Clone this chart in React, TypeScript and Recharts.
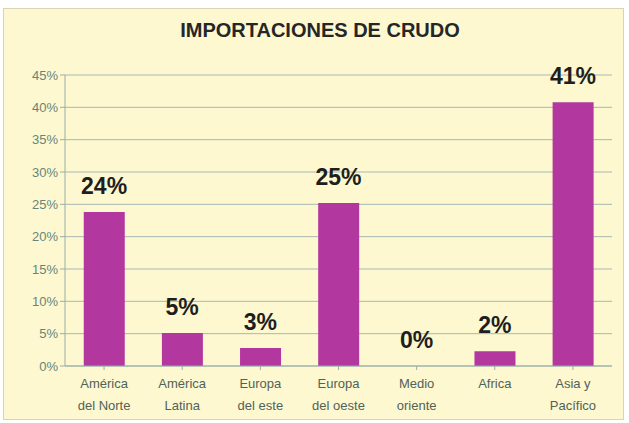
import { ComposedChart, Bar, Line, XAxis, YAxis, CartesianGrid, LabelList } from "recharts";

const regions = [
  "América del Norte",
  "América Latina",
  "Europa del este",
  "Europa del oeste",
  "Medio oriente",
  "Africa",
  "Asia y Pacífico",
];
const tickLines = [
  ["América", "del Norte"],
  ["América", "Latina"],
  ["Europa", "del este"],
  ["Europa", "del oeste"],
  ["Medio", "oriente"],
  ["Africa", ""],
  ["Asia y", "Pacífico"],
];
const shares = [23.8, 5.1, 2.8, 25.2, 0, 2.3, 40.8];
const shareLabels = ["24%", "5%", "3%", "25%", "0%", "2%", "41%"];
const yTicks = [0, 5, 10, 15, 20, 25, 30, 35, 40, 45];

const data = regions.map((name, i) => ({ name, share: shares[i], label: shareLabels[i] }));

const font = "Liberation Sans, Arial, sans-serif";

function RegionTick({ x, y, payload }: any) {
  const lines = tickLines[payload.index] ?? [payload.value, ""];
  return (
    <text x={x} y={y} textAnchor="middle" fill="#51625a" fontSize={13} fontFamily={font}>
      <tspan x={x} dy={16}>{lines[0]}</tspan>
      <tspan x={x} dy={22}>{lines[1]}</tspan>
    </text>
  );
}

export default function App() {
  return (
    <div style={{ position: "absolute", left: 0, top: 0, width: 629, height: 423, background: "#fff" }}>
      <div
        style={{
          position: "absolute",
          left: 3,
          top: 8,
          width: 621,
          height: 412,
          background: "#fdf8d0",
          border: "1px solid #d8d4b4",
          boxSizing: "border-box",
        }}
      />
      <div
        style={{
          position: "absolute",
          left: 0,
          top: 19,
          width: 640,
          textAlign: "center",
          fontFamily: font,
          fontWeight: "bold",
          fontSize: 20,
          color: "#262626",
        }}
      >
        IMPORTACIONES DE CRUDO
      </div>
      <div style={{ position: "absolute", left: 0, top: 0 }}>
        <ComposedChart
          width={629}
          height={423}
          data={data}
          margin={{ top: 75, right: 17, left: 0, bottom: 0 }}
          barCategoryGap="24%"
        >
          <CartesianGrid vertical={false} stroke="#a6bab4" />
          <XAxis
            dataKey="name"
            height={57}
            interval={0}
            tick={<RegionTick />}
            stroke="#9aaea8"
            tickLine={{ stroke: "#9aaea8" }}
            tickSize={4}
          />
          <YAxis
            width={65}
            domain={[0, 45]}
            ticks={yTicks}
            tickFormatter={(v: number) => `${v}%`}
            tick={{ fill: "#66857a", fontSize: 13, fontFamily: font }}
            stroke="#9aaea8"
            tickSize={5}
          />
          <Bar dataKey="share" fill="#b2379f" isAnimationActive={false} />
          <Line dataKey="share" stroke="none" dot={false} activeDot={false} isAnimationActive={false}>
            <LabelList
              dataKey="label"
              position="top"
              offset={18}
              fill="#1e1e1e"
              fontSize={23}
              fontWeight="bold"
              fontFamily={font}
            />
          </Line>
        </ComposedChart>
      </div>
    </div>
  );
}
